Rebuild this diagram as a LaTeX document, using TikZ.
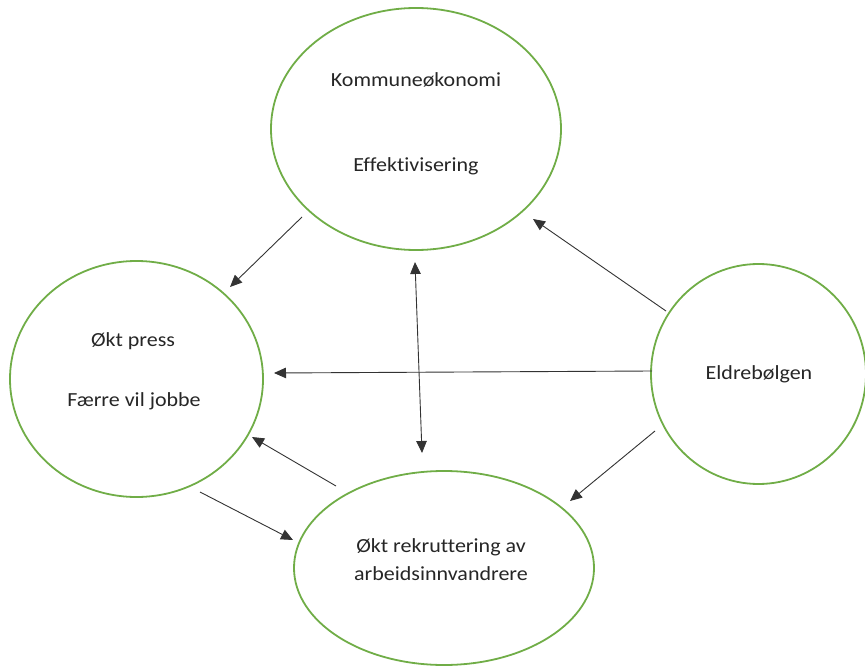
\documentclass[tikz,border=0pt]{standalone}
\usepackage{fontspec}
\setmainfont[FakeStretch=1.1,Ligatures=NoCommon]{Carlito}
\usetikzlibrary{shapes.geometric,arrows.meta}
\definecolor{ringgreen}{RGB}{112,173,71}
\begin{document}
\begin{tikzpicture}[x=1pt,y=-1pt,
  ring/.style={ellipse,draw=ringgreen,line width=1.8pt,inner sep=0pt},
  lbl/.style={font=\fontsize{20}{28}\selectfont,inner sep=0pt,align=center,text=black!85},
  arr/.style={draw=black!80,line width=0.9pt,-{Triangle[length=12pt,width=10.5pt]}},
  darr/.style={draw=black!80,line width=0.9pt,{Triangle[length=12pt,width=10.5pt]}-{Triangle[length=12pt,width=10.5pt]}}]
\useasboundingbox (0,0) rectangle (865,666);
% ellipses
\node[ring,minimum width=290pt,minimum height=242pt] (top) at (416,129) {};
\node[ring,minimum width=253pt,minimum height=236pt] (left) at (136.5,379) {};
\node[ring,minimum width=215pt,minimum height=220pt] (right) at (758.5,374) {};
\node[ring,minimum width=300pt,minimum height=194pt] (bot) at (444,568) {};
% texts
\node[lbl] (t1) at (416,80) {Kommuneøkonomi};
\node[lbl] (t2) at (416,166) {Effektivisering};
\node[lbl] (l1) at (133,341) {Økt press};
\node[lbl] (l2) at (134,401) {Færre vil jobbe};
\node[lbl] (r1) at (759,374) {Eldrebølgen};
\node[lbl] (b1) at (441,560) {Økt rekruttering av\\arbeidsinnvandrere};
% arrow end points
\coordinate (a1s) at (302,217); \coordinate (a1e) at (230,287);
\coordinate (a2s) at (666,311); \coordinate (a2e) at (533,219);
\coordinate (a3s) at (652,371); \coordinate (a3e) at (274,373);
\coordinate (a4s) at (415,262); \coordinate (a4e) at (422,453);
\coordinate (a5s) at (655,431); \coordinate (a5e) at (570,501);
\coordinate (a6s) at (336,486); \coordinate (a6e) at (252,437);
\coordinate (a7s) at (200,492); \coordinate (a7e) at (293,540);
\draw[arr] (a1s) -- (a1e);
\draw[arr] (a2s) -- (a2e);
\draw[arr] (a3s) -- (a3e);
\draw[darr] (a4s) -- (a4e);
\draw[arr] (a5s) -- (a5e);
\draw[arr] (a6s) -- (a6e);
\draw[arr] (a7s) -- (a7e);
\end{tikzpicture}
\end{document}
